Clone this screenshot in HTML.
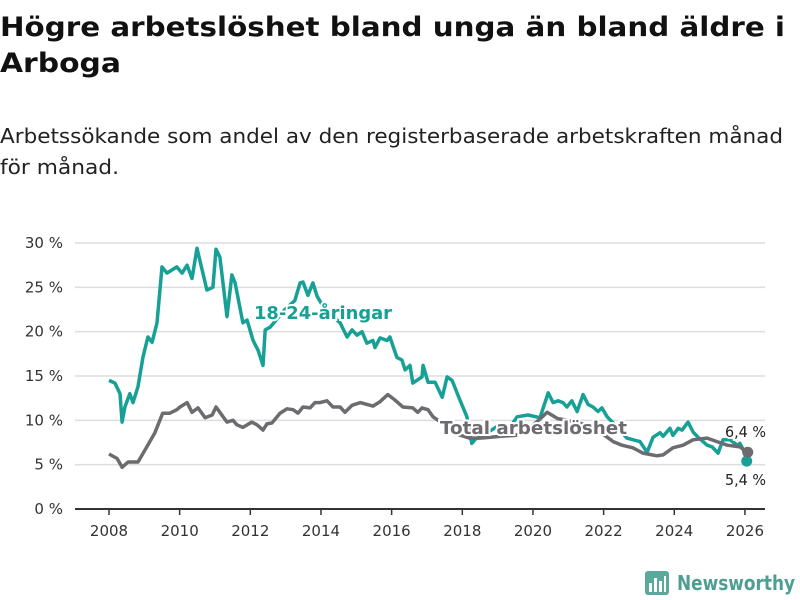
<!DOCTYPE html>
<html><head><meta charset="utf-8"><style>
body{margin:0;background:#fff;}
svg{display:block;font-family:"DejaVu Sans","Liberation Sans",sans-serif;}
</style></head><body>
<svg id="c" width="800" height="600">
<text x="0" y="36" font-size="27" font-weight="bold" fill="#111" textLength="785" lengthAdjust="spacingAndGlyphs">Högre arbetslöshet bland unga än bland äldre i</text>
<text x="0" y="72" font-size="27" font-weight="bold" fill="#111" textLength="121" lengthAdjust="spacingAndGlyphs">Arboga</text>
<text x="0" y="143" font-size="20" fill="#222" textLength="783" lengthAdjust="spacingAndGlyphs">Arbetssökande som andel av den registerbaserade arbetskraften månad</text>
<text x="0" y="174" font-size="20" fill="#222" textLength="119" lengthAdjust="spacingAndGlyphs">för månad.</text>
<g id="grid"></g><g id="lines"></g><g id="labels"></g>
<g>
<rect x="645" y="571" width="24" height="24" rx="3" fill="#5ba99c"/>
<rect x="649" y="583" width="3" height="9" fill="#fff"/><rect x="654" y="578" width="3" height="14" fill="#fff"/><rect x="659" y="581" width="3" height="11" fill="#fff"/><rect x="664" y="576" width="2" height="16" fill="#fff"/>
<text x="677" y="590" font-size="20" font-weight="bold" fill="#4f9e92" textLength="118" lengthAdjust="spacingAndGlyphs">Newsworthy</text>
</g>
</svg>
<script>
const yTicks=[0,5,10,15,20,25,30];
const xTicks=[2008,2010,2012,2014,2016,2018,2020,2022,2024,2026];
const youthYears=[2008.00,2008.17,2008.31,2008.37,2008.45,2008.59,2008.68,2008.82,2008.96,2009.10,2009.22,2009.36,2009.50,2009.64,2009.92,2010.07,2010.21,2010.35,2010.49,2010.77,2010.94,2011.03,2011.14,2011.34,2011.48,2011.57,2011.79,2011.91,2012.08,2012.22,2012.36,2012.42,2012.56,2012.98,2013.26,2013.41,2013.49,2013.63,2013.77,2013.89,2014.11,2014.40,2014.54,2014.74,2014.88,2015.02,2015.16,2015.30,2015.47,2015.53,2015.67,2015.87,2015.95,2016.15,2016.29,2016.38,2016.52,2016.60,2016.86,2016.89,2017.03,2017.23,2017.43,2017.57,2017.71,2017.88,2018.13,2018.27,2018.42,2018.78,2019.07,2019.35,2019.55,2019.86,2020.20,2020.43,2020.57,2020.71,2020.85,2020.96,2021.10,2021.25,2021.42,2021.56,2021.70,2021.84,2021.95,2022.10,2022.27,2022.66,2023.03,2023.23,2023.40,2023.60,2023.68,2023.88,2023.96,2024.11,2024.22,2024.39,2024.53,2024.67,2024.93,2025.07,2025.24,2025.38,2025.58,2025.78,2025.86,2026.00,2026.05];
const youthVals=[14.5,14.2,13,9.8,11.5,13,12,13.8,17.1,19.4,18.8,21,27.3,26.6,27.3,26.6,27.5,26,29.4,24.7,25,29.3,28.4,21.7,26.4,25.5,21,21.3,19,17.9,16.2,20.2,20.5,22.5,23.5,25.5,25.6,24.1,25.5,24,22.5,21.5,21,19.4,20.2,19.6,20,18.7,19,18.2,19.3,19,19.4,17.1,16.8,15.7,16.2,14.2,14.9,16.2,14.3,14.3,12.6,14.9,14.5,12.8,10.4,7.4,8.1,8.8,9.5,9.2,10.4,10.6,10.3,13.1,12,12.2,12,11.5,12.2,11,12.9,11.8,11.5,11,11.4,10.4,9.7,8,7.6,6.4,8.1,8.6,8.2,9.1,8.3,9.1,8.9,9.8,8.7,8.1,7.2,7.0,6.3,7.8,7.8,7.2,7.4,6.3,5.4];
const totalYears=[2008.00,2008.23,2008.37,2008.54,2008.82,2009.07,2009.30,2009.52,2009.72,2009.92,2010.01,2010.21,2010.35,2010.52,2010.72,2010.92,2011.03,2011.14,2011.34,2011.51,2011.62,2011.79,2012.04,2012.19,2012.36,2012.47,2012.61,2012.84,2013.04,2013.21,2013.35,2013.49,2013.69,2013.83,2013.97,2014.17,2014.34,2014.54,2014.68,2014.88,2015.11,2015.30,2015.47,2015.67,2015.89,2016.09,2016.32,2016.60,2016.74,2016.86,2017.03,2017.17,2017.5,2017.8,2018.2,2018.5,2018.8,2019.1,2019.5,2019.8,2020.1,2020.4,2020.7,2021.0,2021.4,2021.8,2022.1,2022.27,2022.52,2022.83,2023.11,2023.51,2023.68,2023.96,2024.25,2024.53,2024.93,2025.21,2025.50,2025.86,2026.08];
const totalVals=[6.2,5.7,4.7,5.3,5.3,7.0,8.6,10.8,10.8,11.2,11.5,12,10.9,11.4,10.3,10.6,11.5,10.9,9.8,10,9.5,9.2,9.8,9.5,8.9,9.6,9.7,10.8,11.3,11.2,10.8,11.5,11.4,12,12,12.2,11.5,11.5,10.9,11.7,12,11.8,11.6,12.1,12.9,12.3,11.5,11.4,10.9,11.4,11.2,10.4,9.5,8.5,8,8,8.1,8.2,8.3,8.8,9.8,10.9,10.2,10,9.6,9,8.1,7.6,7.2,6.9,6.3,6.0,6.1,6.9,7.2,7.8,8.0,7.6,7.2,7.0,6.4];
const NS="http://www.w3.org/2000/svg";
const X=y=>109+(y-2008)*35.33, Y=v=>509-v*8.867;
function mk(tag,attrs,parent){const e=document.createElementNS(NS,tag);for(const k in attrs)e.setAttribute(k,attrs[k]);parent.appendChild(e);return e;}
const grid=document.getElementById('grid'),lines=document.getElementById('lines'),labels=document.getElementById('labels');
yTicks.forEach(v=>{
  if(v>0){const l=mk('line',{x1:75,x2:765,y1:Y(v),y2:Y(v),stroke:'#ddd','stroke-width':1.5},grid);
  
  }
  const t=mk('text',{x:63,y:Y(v)+5,'text-anchor':'end','font-size':15,fill:'#333'},grid);t.textContent=v+' %';
  
  
});
const ax=mk('line',{x1:75,x2:765,y1:509,y2:509,stroke:'#333','stroke-width':2},grid);


xTicks.forEach(y=>{
  mk('line',{x1:X(y),x2:X(y),y1:509,y2:515,stroke:'#333','stroke-width':1.5},grid);
  const t=mk('text',{x:X(y),y:536,'text-anchor':'middle','font-size':15,fill:'#333'},grid);t.textContent=y;
  
  
});
function path(ys,vs,color,name){
  const d=ys.map((y,i)=>(i?'L':'M')+X(y).toFixed(1)+','+Y(vs[i]).toFixed(1)).join('');
  const p=mk('path',{d:d,fill:'none',stroke:color,'stroke-width':3.5,'stroke-linejoin':'round'},lines);
  
  
  const n=ys.length-1;
  const c=mk('circle',{cx:X(ys[n]),cy:Y(vs[n]),r:5.5,fill:color},lines);
  
  
}
path(youthYears,youthVals,'#16a096','youth-line');
path(totalYears,totalVals,'#6d6b70','total-line');
function lab(x,y,txt,col,name,size,bold,len){
  const a={x:x,y:y,'font-size':size,'font-weight':bold?'bold':'normal',fill:col,stroke:'#fff','stroke-width':4,'paint-order':'stroke'};
  if(len){a.textLength=len;a.lengthAdjust='spacingAndGlyphs';}
  const t=mk('text',a,labels);
  t.textContent=txt;
  
  
}
lab(254,319,'18-24-åringar','#16a096','youth-label',18,true,138);
lab(440,434,'Total arbetslöshet','#6d6b70','total-label',18,true,187);
lab(725,437,'6,4 %','#222','total-end-value',15,false,41);
lab(725,485,'5,4 %','#222','youth-end-value',15,false,41);
</script>
</body></html>
